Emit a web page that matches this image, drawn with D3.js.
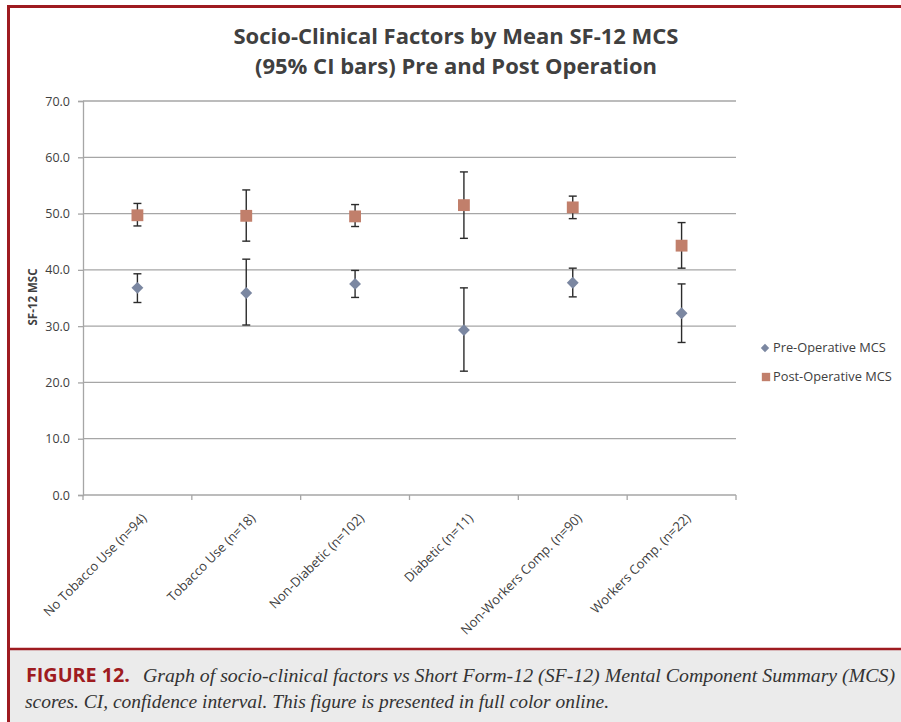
<!DOCTYPE html>
<html>
<head>
<meta charset="utf-8">
<script src="https://cdn.jsdelivr.net/npm/d3@7"></script>
<style>
  body { margin: 0; background: #fff; }
  svg { display: block; }
</style>
</head>
<body>
<svg id="chart"></svg>
<script>
var categories = ["No Tobacco Use (n=94)", "Tobacco Use (n=18)", "Non-Diabetic (n=102)",
                  "Diabetic (n=11)", "Non-Workers Comp. (n=90)", "Workers Comp. (n=22)"];
var preMean  = [36.8, 35.9, 37.5, 29.3, 37.7, 32.3];
var preLow   = [34.2, 30.2, 35.1, 22.0, 35.2, 27.1];
var preHigh  = [39.3, 41.9, 39.9, 36.8, 40.3, 37.5];
var postMean = [49.7, 49.6, 49.5, 51.5, 51.1, 44.3];
var postLow  = [47.8, 45.1, 47.7, 45.6, 49.1, 40.3];
var postHigh = [51.8, 54.2, 51.6, 57.4, 53.1, 48.4];
var yTicks = [0, 10, 20, 30, 40, 50, 60, 70];
var seriesNames = ["Pre-Operative MCS", "Post-Operative MCS"];

var svgWidth = 901, svgHeight = 722;
var red = "#9e1b20", ink = "#404040";

var svg = d3.select("#chart")
   .attr("width", svgWidth)
   .attr("height", svgHeight);

// frame + caption panel
svg.append("rect").attr("x", 8).attr("y", 650).attr("width", svgWidth - 8).attr("height", 72).attr("fill", "#ebebeb");
svg.append("line").attr("x1", 7).attr("x2", svgWidth).attr("y1", 6.5).attr("y2", 6.5).attr("stroke", red).attr("stroke-width", 3);
svg.append("line").attr("x1", 8.5).attr("x2", 8.5).attr("y1", 5).attr("y2", svgHeight).attr("stroke", red).attr("stroke-width", 3);
svg.append("line").attr("x1", 7).attr("x2", svgWidth).attr("y1", 649).attr("y2", 649).attr("stroke", red).attr("stroke-width", 2.5);

var x = d3.scaleBand().domain(categories).range([83, 736]);
var y = d3.scaleLinear().domain([0, 70]).range([495, 101]);

// title
var title = svg.append("text")
   .attr("text-anchor", "middle")
   .attr("font-family", "Open Sans").attr("font-weight", "bold")
   .attr("font-size", 22).attr("fill", ink);
title.append("tspan").attr("x", 456).attr("y", 44).text("Socio-Clinical Factors by Mean SF-12 MCS");
title.append("tspan").attr("x", 456).attr("y", 74).text("(95% CI bars) Pre and Post Operation");

// gridlines
svg.append("g").selectAll("line")
   .data(yTicks.filter(function(d){ return d > 0; }))
   .enter().append("line")
   .attr("x1", 83).attr("x2", 736)
   .attr("y1", function(d){ return y(d); }).attr("y2", function(d){ return y(d); })
   .attr("stroke", "#a6a6a6").attr("stroke-width", 1.3);

// y axis
var yAxis = svg.append("g")
   .attr("transform", "translate(83,0)")
   .call(d3.axisLeft(y).tickValues(yTicks).tickFormat(d3.format(".1f")).tickSize(5).tickPadding(8));
yAxis.selectAll("line, path").attr("stroke", "#a6a6a6").attr("stroke-width", 1.3);
yAxis.selectAll("text").attr("font-family", "Open Sans").attr("font-size", 12.5).attr("fill", ink);

// x axis
svg.append("line").attr("x1", 83).attr("x2", 736).attr("y1", y(0)).attr("y2", y(0))
   .attr("stroke", "#a6a6a6").attr("stroke-width", 1.3);
svg.append("g").selectAll("line")
   .data(categories.map(function(c){ return x(c); }).concat([736]))
   .enter().append("line")
   .attr("x1", function(d){ return d; }).attr("x2", function(d){ return d; })
   .attr("y1", y(0)).attr("y2", y(0) + 5)
   .attr("stroke", "#a6a6a6").attr("stroke-width", 1.3);

svg.append("g").selectAll("text")
   .data(categories)
   .enter().append("text")
   .attr("transform", function(d){
      return "translate(" + (x(d) + x.bandwidth() / 2 + 10) + "," + (y(0) + 24) + ") rotate(-45)";
   })
   .attr("text-anchor", "end")
   .attr("font-family", "Open Sans").attr("font-size", 13).attr("fill", ink)
   .text(function(d){ return d; });

// y label
svg.append("text")
   .attr("transform", "translate(37,297) rotate(-90)")
   .attr("text-anchor", "middle")
   .attr("font-family", "Open Sans").attr("font-weight", "bold").attr("font-size", 11.5).attr("fill", ink)
   .text("SF-12 MSC");

// error bars
function errorBars(low, high, cls) {
   var g = svg.append("g").attr("class", cls);
   var bars = g.selectAll("g").data(categories).enter().append("g");
   var cx = function(d){ return x(d) + x.bandwidth() / 2; };
   bars.append("line")
      .attr("x1", cx).attr("x2", cx)
      .attr("y1", function(d, i){ return y(low[i]); })
      .attr("y2", function(d, i){ return y(high[i]); });
   bars.append("line")
      .attr("x1", function(d){ return cx(d) - 4; }).attr("x2", function(d){ return cx(d) + 4; })
      .attr("y1", function(d, i){ return y(low[i]); }).attr("y2", function(d, i){ return y(low[i]); });
   bars.append("line")
      .attr("x1", function(d){ return cx(d) - 4; }).attr("x2", function(d){ return cx(d) + 4; })
      .attr("y1", function(d, i){ return y(high[i]); }).attr("y2", function(d, i){ return y(high[i]); });
   bars.selectAll("line").attr("stroke", "#2b2b2b").attr("stroke-width", 1.4);
}
errorBars(preLow, preHigh, "pre-err");
errorBars(postLow, postHigh, "post-err");

var diamond = d3.symbol().type(d3.symbolDiamond2).size(90);
var square = d3.symbol().type(d3.symbolSquare).size(140);

svg.append("g").selectAll("path")
   .data(preMean).enter().append("path")
   .attr("d", diamond)
   .attr("transform", function(d, i){ return "translate(" + (x(categories[i]) + x.bandwidth() / 2) + "," + y(d) + ")"; })
   .attr("fill", "#7b87a1");

svg.append("g").selectAll("path")
   .data(postMean).enter().append("path")
   .attr("d", square)
   .attr("transform", function(d, i){ return "translate(" + (x(categories[i]) + x.bandwidth() / 2) + "," + y(d) + ")"; })
   .attr("fill", "#c17f6b");

// legend
var legend = svg.append("g");
legend.append("path").attr("d", d3.symbol().type(d3.symbolDiamond2).size(45)).attr("transform", "translate(765,348)").attr("fill", "#7b87a1");
legend.append("path").attr("d", d3.symbol().type(d3.symbolSquare).size(70)).attr("transform", "translate(766,377)").attr("fill", "#c17f6b");
legend.selectAll("text").data(seriesNames).enter().append("text")
   .attr("x", 773).attr("y", function(d, i){ return 352 + i * 29; })
   .attr("font-family", "Open Sans").attr("font-size", 12.8).attr("fill", ink)
   .text(function(d){ return d; });

// caption
svg.append("text").attr("x", 26).attr("y", 682)
   .attr("font-family", "Open Sans").attr("font-weight", "bold").attr("font-size", 20)
   .attr("textLength", 104).attr("lengthAdjust", "spacingAndGlyphs")
   .attr("fill", red).text("FIGURE 12.");
svg.append("text").attr("x", 143).attr("y", 682)
   .attr("font-family", "'Liberation Serif', 'DejaVu Serif', serif").attr("font-style", "italic")
   .attr("font-size", 19).attr("fill", "#333")
   .attr("textLength", 752).attr("lengthAdjust", "spacingAndGlyphs")
   .text("Graph of socio-clinical factors vs Short Form-12 (SF-12) Mental Component Summary (MCS)");
svg.append("text").attr("x", 25).attr("y", 708)
   .attr("font-family", "'Liberation Serif', 'DejaVu Serif', serif").attr("font-style", "italic")
   .attr("font-size", 19).attr("fill", "#333")
   .attr("textLength", 584).attr("lengthAdjust", "spacingAndGlyphs")
   .text("scores. CI, confidence interval. This figure is presented in full color online.");
</script>
</body>
</html>
